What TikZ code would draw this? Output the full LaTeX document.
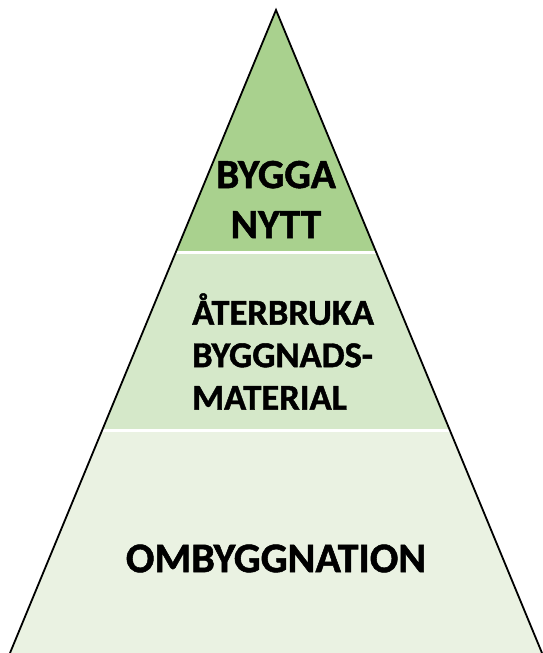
\documentclass[tikz,border=0pt]{standalone}
\usepackage{fontspec}
\setmainfont{Carlito}[BoldFeatures={FakeBold=1.2}]
\definecolor{layerA}{HTML}{A9D18E}
\definecolor{layerB}{HTML}{D5E8C9}
\definecolor{layerC}{HTML}{EAF2E2}

\begin{document}
\begin{tikzpicture}[x=1pt,y=-1pt,txt/.style={text=black,inner sep=0pt},edge/.style={line width=1.8pt},gap/.style={white,line width=2.2pt}]
\def\xt{276};
\def\yt{10};
\def\yb{653};
\def\ya{252.5};
\def\yc{430.5};

\useasboundingbox (0,0) rectangle (543,653);

\coordinate (T) at (\xt,\yt);
\coordinate (L) at (10,\yb);
\coordinate (R) at (542,\yb);

\begin{scope}
\clip (T) -- (L) -- (R) -- cycle;
\fill[layerA] (0,0) rectangle (543,\ya);
\fill[layerB] (0,\ya) rectangle (543,\yc);
\fill[layerC] (0,\yc) rectangle (543,\yb);
\draw[gap] (0,\ya) -- (543,\ya);
\draw[gap] (0,\yc) -- (543,\yc);
\end{scope}

\draw[edge] (L) -- (T) -- (R);

\node[txt,align=center,font=\bfseries\fontsize{41.5}{50}\selectfont] (nytt) at (\xt,199.5) {BYGGA\\NYTT};
\node[txt,align=left,anchor=west,font=\bfseries\fontsize{36.5}{42.5}\selectfont] (aterbruk) at (192,351.5) {ÅTERBRUKA\\BYGGNADS-\\MATERIAL};
\node[txt,font=\bfseries\fontsize{42.2}{48}\selectfont] (ombygg) at (\xt,558.5) {OMBYGGNATION};
\end{tikzpicture}
\end{document}
